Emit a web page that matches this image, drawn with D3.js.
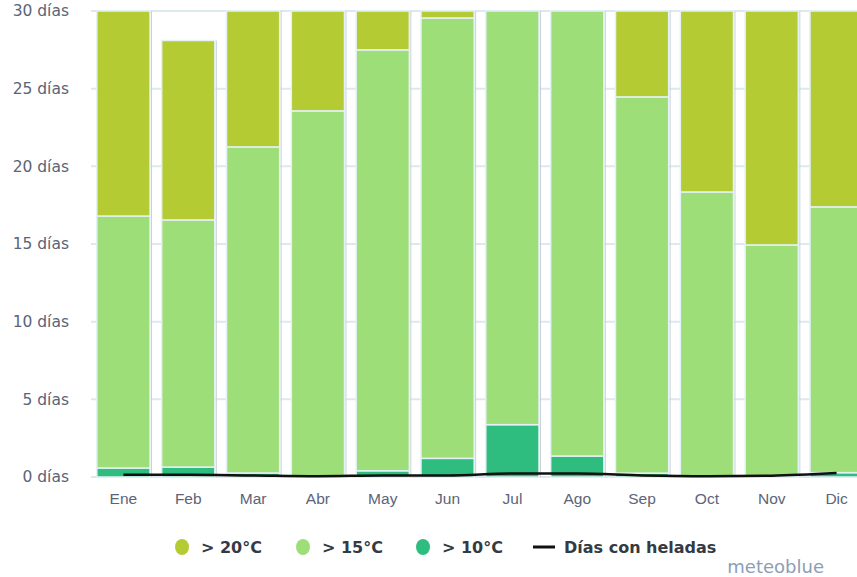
<!DOCTYPE html>
<html>
<head>
<meta charset="utf-8">
<script src="https://cdn.jsdelivr.net/npm/d3@7"></script>
<style>
  body { margin: 0; background: #fff; }
  svg { display: block; font-family: "DejaVu Sans", sans-serif; }
  .tick text { fill: #5b6478; }
</style>
</head>
<body>
<svg width="857" height="577"></svg>
<script>
// months and stacked segment heights (days)
const months = ["Ene","Feb","Mar","Abr","May","Jun","Jul","Ago","Sep","Oct","Nov","Dic"];
const over10 = [0.58, 0.64, 0.26, 0.05, 0.4, 1.2, 3.37, 1.35, 0.25, 0.05, 0.05, 0.28];
const over15 = [16.22, 15.91, 20.99, 23.52, 27.1, 28.35, 26.63, 28.65, 24.22, 18.3, 14.89, 17.11];
const over20 = [13.2, 11.55, 8.75, 6.43, 2.5, 0.45, 0, 0, 5.53, 11.65, 15.06, 12.61];
const frost = [0.15, 0.15, 0.1, 0.05, 0.1, 0.1, 0.22, 0.22, 0.1, 0.05, 0.08, 0.25];
const yTicks = [0, 5, 10, 15, 20, 25, 30];

const colors = { over20: "#b5cb33", over15: "#9ede78", over10: "#2ebd7e" };

const svg = d3.select("svg");
const margin = { left: 91, top: 11, bottom: 100 };
const plotW = 778;   // runs past the right edge like the original
const plotH = 466;

const x = d3.scaleBand().domain(months).range([margin.left, margin.left + plotW]).paddingInner(0.18).paddingOuter(0.09);
const y = d3.scaleLinear().domain([0, 30]).range([margin.top + plotH, margin.top]);

// grid
svg.append("g")
  .selectAll("line")
  .data(yTicks)
  .join("line")
  .attr("x1", margin.left)
  .attr("x2", 857)
  .attr("y1", d => y(d))
  .attr("y2", d => y(d))
  .attr("stroke", "#dde9f1")
  .attr("stroke-width", 2);

// y labels
svg.append("g")
  .selectAll("text")
  .data(yTicks)
  .join("text")
  .attr("x", 69)
  .attr("y", d => y(d))
  .attr("dy", "0.35em")
  .attr("text-anchor", "end")
  .attr("fill", "#5b6478")
  .style("font-size", "15.5px")
  .text(d => d + " días");

// stacked bars
const rows = months.map((m, i) => ({ month: m, over10: over10[i], over15: over15[i], over20: over20[i] }));
const stack = d3.stack().keys(["over10", "over15", "over20"])(rows);

svg.append("g")
  .selectAll("g")
  .data(stack)
  .join("g")
  .attr("fill", d => colors[d.key])
  .selectAll("rect")
  .data(d => d.filter(s => s[1] - s[0] > 0))
  .join("rect")
  .attr("x", d => x(d.data.month))
  .attr("width", x.bandwidth())
  .attr("y", d => y(Math.min(d[1], 30)))
  .attr("height", d => y(d[0]) - y(Math.min(d[1], 30)))
  .attr("stroke", "#e4f1f6")
  .attr("stroke-width", 1.5);

// subtle shadow line on the right side of each column
svg.append("g")
  .selectAll("line")
  .data(months)
  .join("line")
  .attr("x1", d => x(d) + x.bandwidth() + 1.5)
  .attr("x2", d => x(d) + x.bandwidth() + 1.5)
  .attr("y1", (d, i) => y(Math.min(over10[i] + over15[i] + over20[i], 30)))
  .attr("y2", y(0))
  .attr("stroke", "#c9d2d8")
  .attr("stroke-width", 1);

// frost days line
const line = d3.line()
  .x((d, i) => x(months[i]) + x.bandwidth() / 2)
  .y(d => y(d))
  .curve(d3.curveMonotoneX);
svg.append("path")
  .datum(frost)
  .attr("d", line)
  .attr("fill", "none")
  .attr("stroke", "#111")
  .attr("stroke-width", 2.5);

// x labels
const xAxis = svg.append("g")
  .attr("transform", "translate(0," + (y(0) + 3) + ")")
  .call(d3.axisBottom(x).tickSize(0).tickPadding(13));
xAxis.select(".domain").remove();
xAxis.selectAll("text").style("font-size", "15.5px").attr("fill", "#5b6478");

// legend
const legend = [
  { label: "> 20°C", color: colors.over20, cx: 182, tx: 201, type: "dot" },
  { label: "> 15°C", color: colors.over15, cx: 303, tx: 322, type: "dot" },
  { label: "> 10°C", color: colors.over10, cx: 423, tx: 442, type: "dot" },
  { label: "Días con heladas", color: "#111", cx: 544, tx: 564, type: "line" }
];
const lg = svg.append("g").attr("transform", "translate(0,547)");
lg.selectAll("ellipse")
  .data(legend.filter(d => d.type === "dot"))
  .join("ellipse")
  .attr("cx", d => d.cx)
  .attr("cy", 0)
  .attr("rx", 7)
  .attr("ry", 8)
  .attr("fill", d => d.color);
lg.selectAll("line")
  .data(legend.filter(d => d.type === "line"))
  .join("line")
  .attr("x1", d => d.cx - 11)
  .attr("x2", d => d.cx + 11)
  .attr("stroke", d => d.color)
  .attr("stroke-width", 3);
lg.selectAll("text")
  .data(legend)
  .join("text")
  .attr("x", d => d.tx)
  .attr("y", 0)
  .attr("dy", "0.35em")
  .attr("fill", "#333a44")
  .style("font-size", "16px")
  .style("font-weight", "bold")
  .text(d => d.label);

svg.append("text")
  .attr("x", 824)
  .attr("y", 573)
  .attr("text-anchor", "end")
  .attr("fill", "#8d9db6")
  .style("font-size", "18px")
  .text("meteoblue");
</script>
</body>
</html>
